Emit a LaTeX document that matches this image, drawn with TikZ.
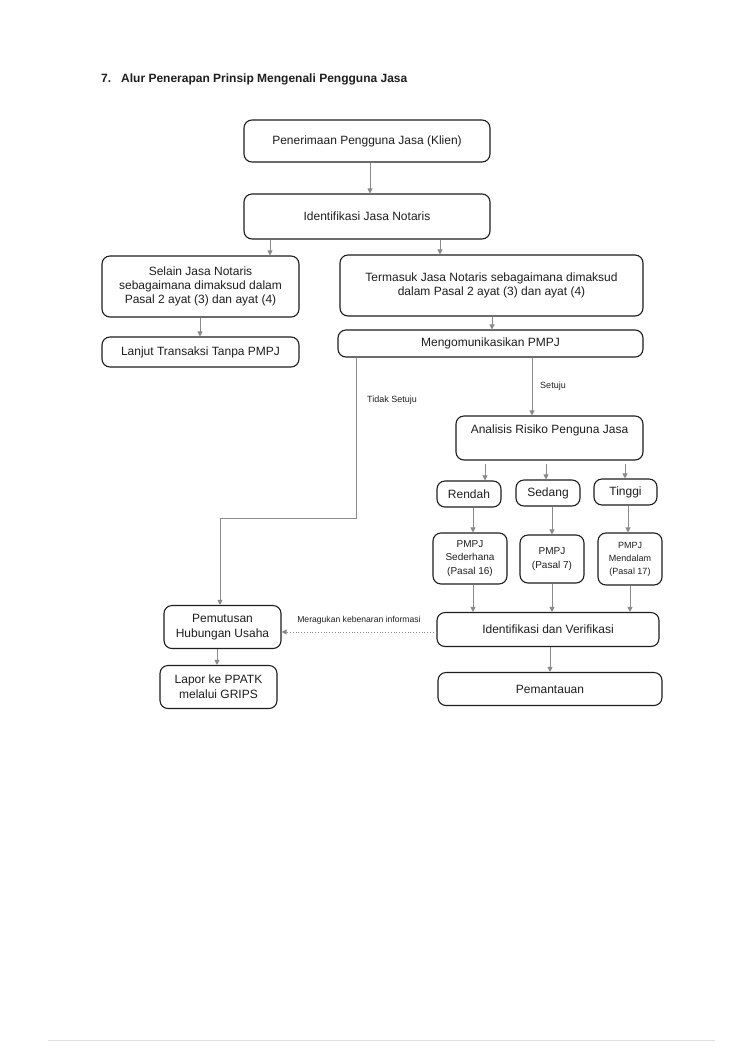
\documentclass[tikz,border=0pt]{standalone}
\usepackage{fontspec}
\setmainfont{Liberation Sans}
\usetikzlibrary{arrows.meta}
\definecolor{ink}{HTML}{1E1E1E}
\definecolor{conn}{HTML}{8A8A8A}
\tikzset{
  box/.style={draw=ink, line width=1.1pt, rounded corners=8pt, inner sep=0pt, align=center,
              text=ink, font=\fontsize{12}{14}\selectfont},
  smallbox/.style={box, font=\fontsize{10}{13.5}\selectfont},
  tinybox/.style={box, font=\fontsize{9}{13}\selectfont},
  arr/.style={draw=conn, line width=0.8pt, -{Triangle[width=5pt,length=5pt]}},
  dotarr/.style={arr, dotted, line width=1pt},
  lbl/.style={text=ink, inner sep=0pt, font=\fontsize{9}{11}\selectfont},
}
\begin{document}
\begin{tikzpicture}[x=1pt,y=-1pt]
\useasboundingbox (0,0) rectangle (750,1061);
\fill[white] (0,0) rectangle (750,1061);

% title
\node[anchor=west, inner sep=0pt, text=ink, font=\bfseries\fontsize{12}{14}\selectfont] (title) at (101,79)
  {7.\hspace{10pt}Alur Penerapan Prinsip Mengenali Pengguna Jasa};

% nodes
\node[box, minimum width=246pt, minimum height=42pt] (n1) at (367,141) {Penerimaan Pengguna Jasa (Klien)};
\node[box, minimum width=246pt, minimum height=45pt] (n2) at (367,216.5) {Identifikasi Jasa Notaris};
\node[box, minimum width=197pt, minimum height=61pt] (n3) at (200.5,286.5) {Selain Jasa Notaris\\sebagaimana dimaksud dalam\\Pasal 2 ayat (3) dan ayat (4)};
\node[box, minimum width=303pt, minimum height=61pt] (n4) at (491.5,285.5) {Termasuk Jasa Notaris sebagaimana dimaksud\\dalam Pasal 2 ayat (3) dan ayat (4)};
\node[box, minimum width=197pt, minimum height=30pt] (n5) at (200.5,352) {Lanjut Transaksi Tanpa PMPJ};
\node[box, minimum width=305pt, minimum height=27pt] (n6) at (490.5,343.5) {Mengomunikasikan PMPJ};
\node[box, minimum width=187pt, minimum height=44pt] (n7) at (549.5,438) {Analisis Risiko Penguna Jasa\\\strut};
\node[box, minimum width=64pt, minimum height=26pt] (r) at (469,494) {Rendah};
\node[box, minimum width=64pt, minimum height=26pt] (s) at (548,493) {Sedang};
\node[box, minimum width=63pt, minimum height=26pt] (t) at (625.5,492) {Tinggi};
\node[smallbox, minimum width=74pt, minimum height=51pt] (p1) at (470,558.5) {PMPJ\\Sederhana\\(Pasal 16)};
\node[smallbox, minimum width=64pt, minimum height=48pt] (p2) at (552,559) {PMPJ\\(Pasal 7)};
\node[tinybox, minimum width=64pt, minimum height=52pt] (p3) at (630,559) {PMPJ\\Mendalam\\(Pasal 17)};
\node[box, minimum width=222pt, minimum height=34pt] (iv) at (548,629.5) {Identifikasi dan Verifikasi};
\node[box, minimum width=224pt, minimum height=33pt] (pm) at (550,689) {Pemantauan};
\node[box, font=\fontsize{12}{15}\selectfont, minimum width=117pt, minimum height=43pt] (pu) at (222.5,627) {Pemutusan\\Hubungan Usaha};
\node[box, font=\fontsize{12}{15}\selectfont, minimum width=117pt, minimum height=43pt] (lp) at (218.5,687) {Lapor ke PPATK\\melalui GRIPS};

% labels
\node[lbl] (ltidak) at (392,400) {Tidak Setuju};
\node[lbl] (lsetuju) at (553,386) {Setuju};
\node[lbl, font=\fontsize{8.6}{10}\selectfont] (lragu) at (359,620) {Meragukan kebenaran informasi};

% connectors
\coordinate (c1) at (220,518);
\draw[arr] (n1.south -| 370,0) -- (n2.north -| 370,0);
\draw[arr] (n2.south -| 270,0) -- (n3.north -| 270,0);
\draw[arr] (n2.south -| 440,0) -- (n4.north -| 440,0);
\draw[arr] (n3.south -| 200,0) -- (n5.north -| 200,0);
\draw[arr] (n4.south -| 492,0) -- (n6.north -| 492,0);
\draw[arr] (n6.south -| 532,0) -- (n7.north -| 532,0);
\draw[arr] (n6.south -| 356,0) |- (c1) -- (pu.north -| c1);
\draw[arr] ([yshift=-3pt]n7.south -| 485,0) -- (r.north -| 485,0);
\draw[arr] ([yshift=-3pt]n7.south -| 546,0) -- (s.north -| 546,0);
\draw[arr] ([yshift=-3pt]n7.south -| 625,0) -- (t.north -| 625,0);
\draw[arr] (r.south -| 473,0) -- (p1.north -| 473,0);
\draw[arr] (s.south -| 552,0) -- (p2.north -| 552,0);
\draw[arr] (t.south -| 628,0) -- (p3.north -| 628,0);
\draw[arr] (p1.south -| 473,0) -- (iv.north -| 473,0);
\draw[arr] (p2.south -| 552,0) -- (iv.north -| 552,0);
\draw[arr] (p3.south -| 630,0) -- (iv.north -| 630,0);
\draw[arr] (iv.south -| 550,0) -- (pm.north -| 550,0);
\draw[arr] (pu.south -| 217,0) -- (lp.north -| 217,0);
\draw[dotarr] (iv.west |- 0,632) -- (pu.east |- 0,632);

% faint scan line at page bottom
\draw[black!12, line width=0.8pt] (48,1040) -- (715,1040);
\end{tikzpicture}
\end{document}
